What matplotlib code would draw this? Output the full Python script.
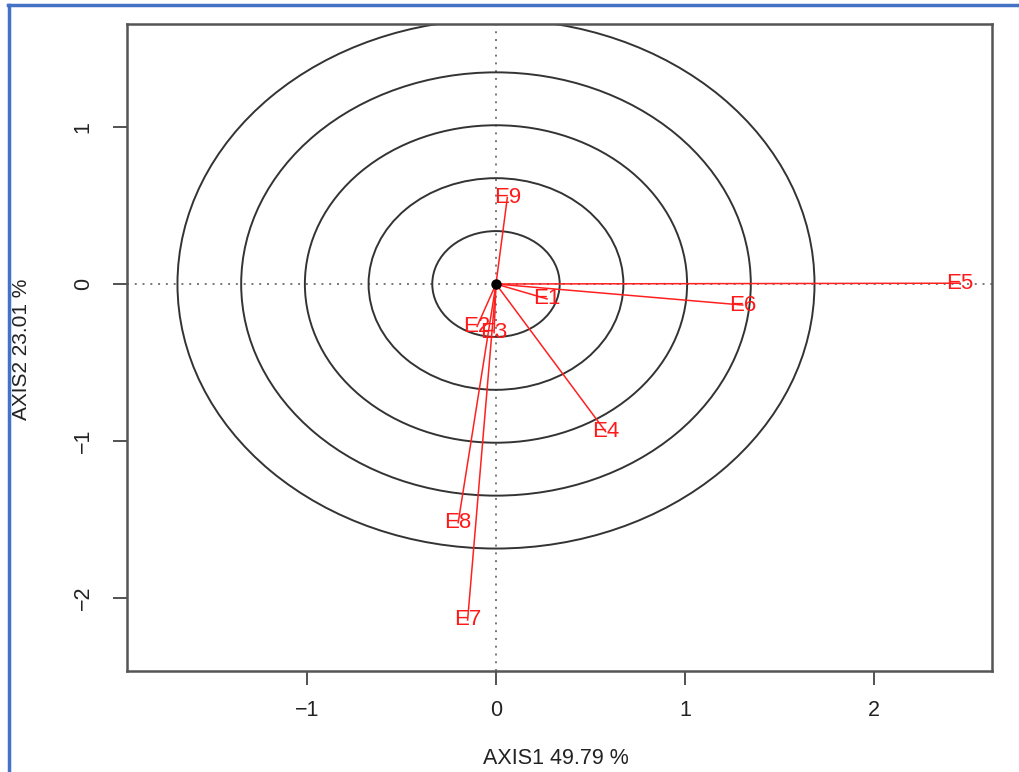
import matplotlib
matplotlib.use("Agg")
import matplotlib.pyplot as plt
from matplotlib.patches import Circle
from matplotlib.lines import Line2D

# Data
labels = ["E1", "E2", "E3", "E4", "E5", "E6", "E7", "E8", "E9"]
axis1 = [0.27, -0.10, -0.01, 0.58, 2.455, 1.305, -0.15, -0.20, 0.06]
axis2 = [-0.095, -0.27, -0.31, -0.94, 0.005, -0.134, -2.14, -1.52, 0.55]
radii = [0.337, 0.674, 1.011, 1.348, 1.685]
xticks = [-1, 0, 1, 2]
yticks = [-2, -1, 0, 1]
xlabel = "AXIS1 49.79 %"
ylabel = "AXIS2 23.01 %"

plt.rcParams['font.family'] = ['Liberation Sans', 'DejaVu Sans']

fig = plt.figure(figsize=(10.19, 7.72), dpi=100)
ax = fig.add_axes([127/1019, 1-671/772, (992-127)/1019, (671-24)/772])

ax.set_xlim(-1.952, 2.624)
ax.set_ylim(-2.465, 1.656)

# dotted reference axes
ax.axhline(0, color='#777777', lw=1.4, ls=(0, (1, 3)), zorder=1)
ax.axvline(0, color='#777777', lw=1.4, ls=(0, (1, 3)), zorder=1)

for r in radii:
    ax.add_patch(Circle((0, 0), r, fill=False, ec='#333333', lw=1.4, zorder=2))

for lab, x, y in zip(labels, axis1, axis2):
    ax.plot([0, x], [0, y], color='#FF2020', lw=1.1, zorder=3)
    ax.text(x, y, lab, color='#FF1A1A', fontsize=16, ha='center', va='center', zorder=4)

ax.plot([0], [0], 'o', color='black', ms=6.5, zorder=5)

ax.set_xticks(xticks)
ax.set_yticks(yticks)
ax.set_xticklabels([str(t).replace('-', '\u2212') for t in xticks])
ax.set_yticklabels([str(t).replace('-', '\u2212') for t in yticks], rotation=90, va='center')
ax.tick_params(axis='both', length=10, width=1.3, color='#444444', labelsize=15.5, colors='#222222')
ax.tick_params(axis='x', pad=11)
ax.tick_params(axis='y', pad=14)

for s in ax.spines.values():
    s.set_color('#555555')
    s.set_linewidth(1.8)

fig.text(556/1019, 1-759/772, xlabel, ha='center', va='center', fontsize=15.5, color='#222222')
fig.text(22/1019, 1-349/772, ylabel, ha='center', va='center', rotation=90, fontsize=15, color='#222222')

# blue frame of the screenshot
fig.add_artist(Line2D([8/1019, 1], [1-4.5/772, 1-4.5/772], transform=fig.transFigure, color='#4472C4', lw=2.5))
fig.add_artist(Line2D([8.5/1019, 8.5/1019], [0, 1-4.5/772], transform=fig.transFigure, color='#4472C4', lw=2.5))

fig.savefig("out.png", dpi=100)
